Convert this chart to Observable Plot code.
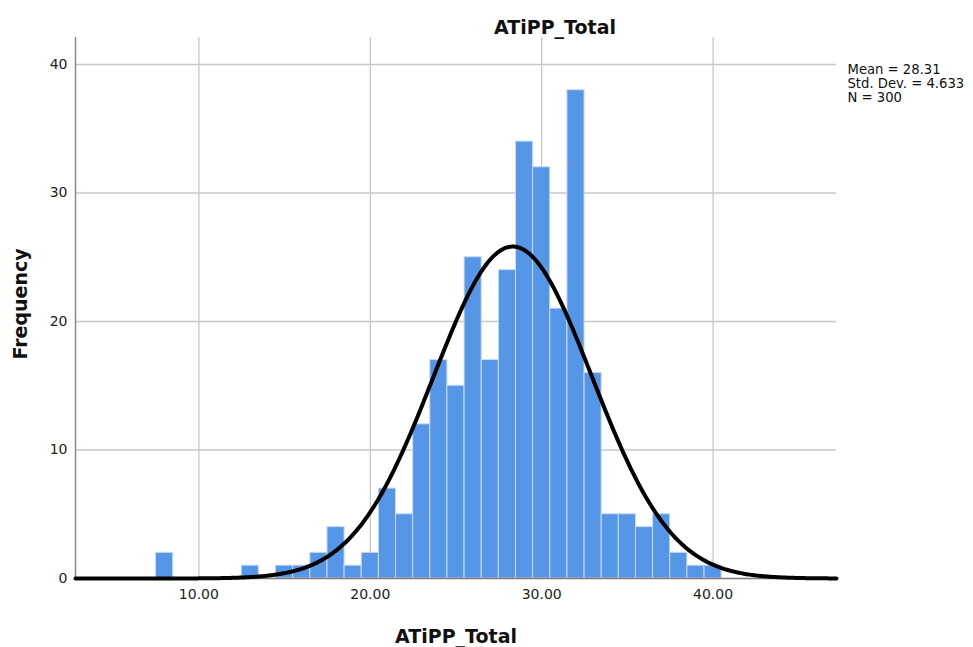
<!DOCTYPE html>
<html>
<head>
<meta charset="utf-8">
<script src="https://cdn.jsdelivr.net/npm/d3@7"></script>
<script src="https://cdn.jsdelivr.net/npm/@observablehq/plot@0.6"></script>
<style>
  body { margin: 0; background: #fff; }
  #chart { width: 973px; height: 647px; }
</style>
</head>
<body>
<div id="chart"></div>
<script>
// Histogram of ATiPP_Total with a fitted normal curve
const variableName = "ATiPP_Total";
const binCenters = [8, 9, 10, 11, 12, 13, 14, 15, 16, 17, 18, 19, 20, 21, 22, 23, 24,
                    25, 26, 27, 28, 29, 30, 31, 32, 33, 34, 35, 36, 37, 38, 39, 40];
const frequencies = [2, 0, 0, 0, 0, 1, 0, 1, 1, 2, 4, 1, 2, 7, 5, 12, 17,
                     15, 25, 17, 24, 34, 32, 21, 38, 16, 5, 5, 4, 5, 2, 1, 1];
const binWidth = 1;
const mean = 28.31;
const stdDev = 4.633;
const n = 300;
const xTicks = [10, 20, 30, 40];
const yTicks = [0, 10, 20, 30, 40];
const xDomain = [2.8, 47.2];
const yDomain = [0, 42.1];

const bins = binCenters
  .map((c, i) => ({x1: c - binWidth / 2, x2: c + binWidth / 2, count: frequencies[i]}))
  .filter(d => d.count > 0);

// Normal density scaled to counts per bin
const pdf = x => Math.exp(-0.5 * ((x - mean) / stdDev) ** 2) / (stdDev * Math.sqrt(2 * Math.PI));
const curve = d3.range(0, 501).map(i => {
  const x = xDomain[0] + (xDomain[1] - xDomain[0]) * i / 500;
  return {x, y: n * binWidth * pdf(x)};
});

const gridStyle = {stroke: "#c8c8c8", strokeOpacity: 1, strokeWidth: 1.3};

const chart = Plot.plot({
  width: 973,
  height: 647,
  marginLeft: 75,
  marginRight: 137,
  marginTop: 37,
  marginBottom: 69,
  style: {fontFamily: "DejaVu Sans", fontSize: "14px", color: "#222", background: "#fff"},
  x: {domain: xDomain, label: null},
  y: {domain: yDomain, label: null},
  marks: [
    Plot.gridX(xTicks, gridStyle),
    Plot.gridY(yTicks.filter(t => t > 0), gridStyle),
    Plot.rectY(bins, {x1: "x1", x2: "x2", y: "count", fill: "#5596e6", stroke: "#c8dcf5", strokeWidth: 1}),
    Plot.ruleX([xDomain[0]], {stroke: "#8a8a8a", strokeWidth: 1.5}),
    Plot.ruleY([0], {stroke: "#7a7a7a", strokeWidth: 1.5}),
    Plot.axisX(xTicks, {tickSize: 0, tickPadding: 11, tickFormat: d3.format(".2f"), label: null, fontSize: 14}),
    Plot.axisY(yTicks, {tickSize: 0, tickPadding: 8, label: null, fontSize: 14}),
    Plot.line(curve, {x: "x", y: "y", stroke: "#000", strokeWidth: 4}),
    // chart title
    Plot.text([variableName], {text: d => d, frameAnchor: "top", dx: 99, dy: -4, lineAnchor: "bottom",
      fontSize: 19, fontWeight: "bold", fill: "#111"}),
    // x axis title
    Plot.text([variableName], {text: d => d, frameAnchor: "bottom", dy: 64, lineAnchor: "bottom",
      fontSize: 19, fontWeight: "bold", fill: "#111"}),
    // y axis title
    Plot.text(["Frequency"], {text: d => d, frameAnchor: "left", dx: -55, dy: -4, rotate: -90,
      textAnchor: "middle", lineAnchor: "middle", fontSize: 19, fontWeight: "bold", fill: "#111"}),
    // summary statistics
    Plot.text([`Mean = ${mean}\nStd. Dev. = ${stdDev}\nN = ${n}`], {text: d => d, frameAnchor: "top-right",
      dx: 11, dy: 27, textAnchor: "start", lineAnchor: "top", fontSize: 13.2, lineHeight: 1.05, fill: "#111"})
  ]
});

document.getElementById("chart").append(chart);
</script>
</body>
</html>
